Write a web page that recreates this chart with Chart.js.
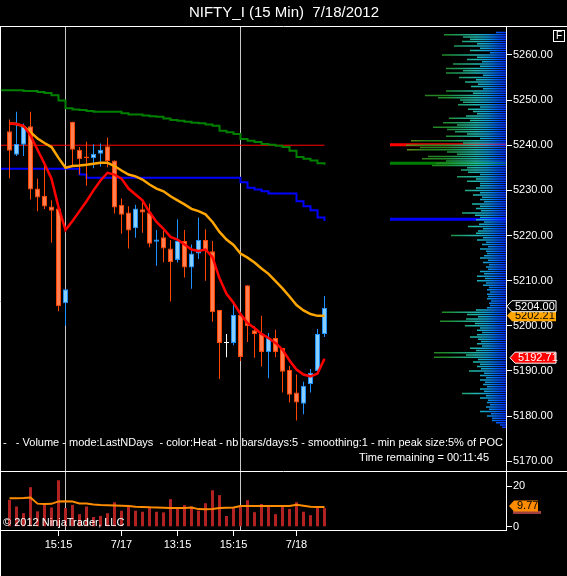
<!DOCTYPE html>
<html>
<head>
<meta charset="utf-8">
<title>NIFTY_I (15 Min) 7/18/2012</title>
<script src="https://cdn.jsdelivr.net/npm/chart.js@4.4.0/dist/chart.umd.min.js"></script>
<style>
  html, body { margin: 0; padding: 0; background: #000; }
  canvas { display: block; background: #000; }
</style>
</head>
<body>
<canvas id="chart" width="567" height="576"></canvas>
<script>
// 15 min bars, 7/16 -> 7/18
const opens  = [5243.1, 5237.9, 5240.1, 5244.2, 5230.4, 5228.8, 5226.4, 5226.0, 5205.0, 5245.2,
                5239.0, 5237.5, 5237.1, 5238.1, 5239.8, 5236.6, 5226.8, 5225.1, 5221.6, 5225.8,
                5225.1, 5218.6, 5219.6, 5217.1, 5214.6, 5218.8, 5212.9, 5216.0, 5219.0, 5216.5,
                5203.5, 5196.2, 5196.2, 5202.4, 5209.0, 5199.0, 5198.2, 5194.2, 5197.3, 5195.1,
                5190.2, 5185.2, 5182.7, 5187.1, 5190.0, 5198.2];
const highs  = [5245.7, 5247.4, 5244.8, 5247.4, 5232.6, 5236.4, 5227.8, 5226.0, 5208.1, 5245.2,
                5239.6, 5240.8, 5240.2, 5240.4, 5241.7, 5236.6, 5228.2, 5226.5, 5226.8, 5227.8,
                5227.1, 5221.2, 5221.1, 5219.0, 5223.6, 5221.2, 5218.0, 5224.0, 5221.4, 5218.8,
                5203.5, 5198.2, 5205.0, 5202.8, 5209.0, 5199.9, 5202.2, 5198.4, 5199.1, 5195.1,
                5191.1, 5189.2, 5187.6, 5190.4, 5199.3, 5206.6];
const lows   = [5232.7, 5237.6, 5237.6, 5228.0, 5225.4, 5225.9, 5218.4, 5203.2, 5200.0, 5235.2,
                5233.5, 5231.0, 5234.9, 5235.3, 5235.1, 5224.9, 5220.4, 5217.1, 5219.5, 5220.6,
                5217.4, 5213.3, 5214.1, 5205.4, 5214.0, 5210.7, 5208.2, 5214.8, 5210.0, 5200.9,
                5188.2, 5193.0, 5195.7, 5192.2, 5196.4, 5192.9, 5191.0, 5188.4, 5193.0, 5185.2,
                5183.0, 5179.0, 5180.4, 5185.2, 5189.6, 5197.5];
const closes = [5238.8, 5240.3, 5244.1, 5230.2, 5228.4, 5226.4, 5225.5, 5204.3, 5208.1, 5239.0,
                5236.9, 5237.1, 5238.1, 5239.0, 5236.5, 5226.2, 5224.6, 5221.1, 5226.0, 5225.1,
                5218.2, 5219.1, 5217.1, 5214.1, 5218.8, 5212.9, 5216.0, 5219.0, 5216.5, 5203.0,
                5196.2, 5196.2, 5202.4, 5193.1, 5199.9, 5198.2, 5194.2, 5197.3, 5194.2, 5189.8,
                5184.7, 5183.0, 5186.7, 5189.6, 5198.2, 5204.0];

const emaFast = [5244.8, 5244.7, 5244.3, 5242.2, 5239.0, 5235.9, 5232.6, 5226.3, 5221.2, 5223.2,
                 5225.4, 5227.6, 5230.0, 5232.2, 5233.9, 5233.5, 5232.6, 5230.4, 5229.1, 5227.8,
                 5225.2, 5223.0, 5221.5, 5219.7, 5219.1, 5218.0, 5216.9, 5216.6, 5216.9, 5215.2,
                 5210.5, 5207.1, 5205.1, 5202.6, 5200.6, 5199.5, 5198.2, 5197.3, 5196.2, 5194.7,
                 5192.3, 5190.3, 5189.2, 5188.8, 5189.4, 5192.71];
const emaSlow = [5244.8, 5244.7, 5244.2, 5242.9, 5241.5, 5240.5, 5239.6, 5237.2, 5235.0, 5235.4,
                 5235.5, 5235.7, 5235.9, 5236.1, 5236.1, 5235.4, 5234.4, 5233.5, 5233.1, 5232.4,
                 5231.3, 5230.4, 5229.8, 5228.7, 5227.8, 5226.9, 5225.9, 5225.4, 5224.7, 5223.0,
                 5220.8, 5219.1, 5217.9, 5216.0, 5215.1, 5214.0, 5212.7, 5211.5, 5209.9, 5208.3,
                 5206.5, 5204.6, 5203.4, 5202.6, 5202.2, 5202.21];
const upperLevel = [5252.2, 5252.2, 5252.0, 5252.0, 5251.8, 5251.6, 5251.1, 5249.9, 5248.2, 5247.9,
                    5247.8, 5247.6, 5247.4, 5247.4, 5247.4, 5247.4, 5247.1, 5246.8, 5246.8, 5246.6,
                    5246.4, 5246.3, 5245.9, 5245.6, 5245.4, 5245.2, 5245.0, 5244.9, 5244.6, 5244.3,
                    5243.2, 5242.9, 5242.5, 5241.4, 5241.0, 5240.7, 5240.3, 5240.1, 5239.9, 5239.6,
                    5238.8, 5237.4, 5237.0, 5236.6, 5236.0, 5235.7];
const lowerLevel = [5234.8, 5234.8, 5234.8, 5234.8, 5234.8, 5234.8, 5234.8, 5234.8, 5234.8, 5234.8,
                    5233.5, 5232.8, 5232.8, 5232.8, 5232.8, 5232.8, 5232.8, 5232.8, 5232.8, 5232.8,
                    5232.8, 5232.8, 5232.8, 5232.8, 5232.8, 5232.8, 5232.8, 5232.8, 5232.8, 5232.8,
                    5232.8, 5232.8, 5232.8, 5231.8, 5230.6, 5230.2, 5229.8, 5229.3, 5229.3, 5229.3,
                    5229.3, 5227.6, 5226.5, 5225.6, 5224.0, 5223.2];
const pocPrice = 5240;

const volumes   = [13.3, 10.0, 6.7, 19.5, 7.6, 11.2, 9.5, 22.9, 9.2, 10.8,
                   6.2, 10.0, 4.8, 5.4, 6.7, 12.1, 7.9, 10.3, 7.9, 7.4,
                   10.0, 7.4, 7.1, 13.6, 9.2, 10.7, 10.0, 8.0, 11.6, 18.0,
                   15.6, 5.3, 9.5, 10.5, 13.1, 7.2, 11.2, 10.0, 6.2, 10.0,
                   8.8, 12.1, 7.4, 5.7, 9.8, 9.2];
const volumeAvg = [14.1, 14.1, 14.2, 14.4, 11.4, 11.2, 11.3, 12.5, 12.6, 12.4,
                   11.5, 11.5, 11.0, 10.7, 10.6, 10.5, 10.4, 10.2, 9.9, 9.8,
                   9.6, 9.5, 9.4, 9.2, 9.2, 9.3, 9.5, 8.7, 8.6, 8.8,
                   9.3, 9.4, 9.5, 10.2, 10.2, 10.2, 10.2, 10.2, 10.2, 10.2,
                   10.2, 10.8, 10.4, 9.9, 9.8, 9.77];

const tickIndex = [7, 16, 24, 32, 41];
const tickLabels = ['15:15', '7/17', '13:15', '15:15', '7/18'];
const sessionBreaks = [8, 33];
const priceTicks = [5170, 5175, 5180, 5185, 5190, 5195, 5200, 5205, 5210, 5215,
                    5220, 5225, 5230, 5235, 5240, 5245, 5250, 5255, 5260];
const volumeTicks = [0, 20];

// volume profile, 0.5 pt levels from 5265 down
const profileTop = 5265;
const profileStep = 0.5;
const profileVolume = [
  10, 62, 43, 36, 44, 29, 52, 26, 36, 16,
  64, 29, 39, 24, 53, 26, 60, 43, 60, 23,
  47, 30, 41, 28, 35, 23, 60, 33, 81, 68,
  46, 43, 48, 26, 38, 33, 29, 40, 57, 36,
  63, 49, 73, 59, 51, 39, 60, 26, 95, 43,
  100, 86, 99, 59, 49, 78, 84, 60, 70, 74,
  39, 45, 38, 26, 49, 30, 39, 26, 26, 30,
  41, 26, 33, 24, 26, 22, 34, 26, 30, 25,
  44, 31, 26, 30, 22, 27, 38, 23, 28, 30,
  55, 23, 29, 20, 24, 18, 26, 20, 19, 22,
  26, 18, 23, 17, 20, 18, 26, 22, 29, 21,
  29, 20, 23, 17, 19, 16, 19, 18, 19, 15,
  17, 16, 19, 30, 64, 39, 28, 40, 66, 31,
  41, 26, 29, 24, 29, 36, 28, 25, 29, 24,
  36, 30, 72, 40, 72, 28, 33, 26, 29, 25,
  37, 22, 26, 20, 26, 21, 23, 19, 26, 22,
  44, 20, 26, 18, 19, 16, 20, 17, 26, 15,
  19, 14, 14, 10, 6, 4
];
const pocLevels = [5240.1, 5236.0, 5223.6];
const pocVolume = 116;

const xMin = -1.2143, xMax = 70.9286;
const FONT = '"Liberation Sans", Arial, sans-serif';

const upFill = '#87cefa', upLine = '#1e90ff';
const downFill = '#ff7f50', downLine = '#ff4500';
const pocColors = ['#ff0000', '#008000', '#0000ff'];

const bars = closes.map((_, i) => i);

function candleColor(i, up, down) {
  if (closes[i] > opens[i]) return up;
  if (closes[i] < opens[i]) return down;
  return '#ffffff';
}

function heatGradient(chart) {
  const area = chart.chartArea;
  if (!area) return '#0040ff';
  const xs = chart.scales.xp;
  const x0 = xs.getPixelForValue(0);
  const x1 = xs.getPixelForValue(pocVolume);
  const g = chart.ctx.createLinearGradient(x0, 0, x1, 0);
  g.addColorStop(0.00, '#0030ff');
  g.addColorStop(0.08, '#0060f0');
  g.addColorStop(0.16, '#1098d8');
  g.addColorStop(0.26, '#20b8b0');
  g.addColorStop(0.38, '#20a070');
  g.addColorStop(0.52, '#1f8a2a');
  g.addColorStop(0.70, '#2a801c');
  g.addColorStop(0.85, '#6a8a18');
  g.addColorStop(1.00, '#a07010');
  return g;
}

const profileData = [];
profileVolume.forEach((v, i) => {
  const p = profileTop - i * profileStep;
  profileData.push({x: 0, y: p}, {x: v, y: p}, {x: null, y: null});
});

function stepData(arr) {
  return [{x: xMin, y: arr[0]}].concat(arr.map((v, i) => ({x: i, y: v})));
}

function marker(ctx, x0, w, y, text, fill, stroke, color) {
  const h = 11;
  ctx.beginPath();
  ctx.moveTo(x0, y);
  ctx.lineTo(x0 + 5, y - h / 2);
  ctx.lineTo(x0 + w, y - h / 2);
  ctx.lineTo(x0 + w, y + h / 2);
  ctx.lineTo(x0 + 5, y + h / 2);
  ctx.closePath();
  ctx.fillStyle = fill;
  ctx.fill();
  if (stroke) {
    ctx.strokeStyle = stroke;
    ctx.lineWidth = 1;
    ctx.stroke();
  }
  ctx.fillStyle = color;
  ctx.textAlign = 'left';
  ctx.textBaseline = 'middle';
  ctx.fillText(text, x0 + 8, y + 0.5);
}

const frame = {
  id: 'frame',
  beforeDatasetsDraw(chart) {
    const {ctx, chartArea: a, scales: {x}} = chart;
    ctx.save();
    ctx.strokeStyle = '#c8c8c8';
    ctx.lineWidth = 1;
    sessionBreaks.forEach(v => {
      const px = Math.floor(x.getPixelForValue(v)) + 0.5;
      ctx.beginPath();
      ctx.moveTo(px, a.top);
      ctx.lineTo(px, a.bottom);
      ctx.stroke();
    });
    ctx.restore();
  },
  afterDraw(chart) {
    const {ctx, chartArea: a, scales: {y, yv}} = chart;
    const W = chart.width, H = chart.height;
    ctx.save();
    ctx.strokeStyle = '#ffffff';
    ctx.lineWidth = 1;
    ctx.beginPath();
    ctx.moveTo(0, a.top - 0.5); ctx.lineTo(W, a.top - 0.5);
    ctx.moveTo(0, Math.round(yv.top) - 0.5); ctx.lineTo(W, Math.round(yv.top) - 0.5);
    ctx.moveTo(0.5, a.top); ctx.lineTo(0.5, H);
    ctx.stroke();

    // F box
    ctx.strokeRect(553.5, 30.5, 11, 11);
    ctx.fillStyle = '#ffffff';
    ctx.font = '10px ' + FONT;
    ctx.textAlign = 'center';
    ctx.textBaseline = 'middle';
    ctx.fillText('F', 559, 36.5);

    // indicator texts
    ctx.font = '11px ' + FONT;
    ctx.textAlign = 'left';
    ctx.fillText('-   - Volume - mode:LastNDays  - color:Heat - nb bars/days:5 - smoothing:1 - min peak size:5% of POC',
      3, 443, 500);
    ctx.textAlign = 'right';
    ctx.fillText('Time remaining = 00:11:45', 489, 458);
    ctx.textAlign = 'left';
    ctx.fillText('\u00a9 2012 NinjaTrader, LLC', 3, 523);

    // price markers
    const last = closes.length - 1;
    const right = a.right + 1;
    marker(ctx, right, 49, y.getPixelForValue(emaSlow[last]), emaSlow[last].toFixed(2), '#ffa500', null, '#000000');
    marker(ctx, right, 49, y.getPixelForValue(closes[last]) - 1.5, closes[last].toFixed(2), '#000000', '#ffffff', '#ffffff');
    marker(ctx, right + 3, 46, y.getPixelForValue(emaFast[last]) - 1, emaFast[last].toFixed(2), '#ff0000', '#ffffff', '#ffffff');
    const vy = yv.getPixelForValue(volumeAvg[last]);
    ctx.fillStyle = '#a04040';
    ctx.fillRect(right + 6, vy + 4, 28, 3);
    marker(ctx, right + 2, 29, vy - 1, volumeAvg[last].toFixed(2), '#ff8c00', null, '#000000');
    ctx.restore();
  }
};

const config = {
  data: {
    datasets: [
      {
        type: 'line', label: 'poc', order: 11, xAxisID: 'xp', yAxisID: 'y',
        data: pocLevels.flatMap(p => [{x: 0, y: p}, {x: pocVolume, y: p}, {x: null, y: null}]),
        borderColor: '#ff0000', borderWidth: 3, pointRadius: 0,
        segment: { borderColor: c => pocColors[Math.floor(c.p0DataIndex / 3)] },
      },
      {
        type: 'line', label: 'profile', order: 10, xAxisID: 'xp', yAxisID: 'y',
        data: profileData,
        borderColor: c => heatGradient(c.chart), borderWidth: 1.5, pointRadius: 0,
        borderCapStyle: 'butt',
      },
      {
        type: 'bar', label: 'volume', order: 9, xAxisID: 'x', yAxisID: 'yv',
        data: volumes.map((v, i) => ({x: i, y: v})),
        backgroundColor: '#b22222', grouped: false, maxBarThickness: 3,
      },
      {
        type: 'line', label: 'volume avg', order: 8, xAxisID: 'x', yAxisID: 'yv',
        data: volumeAvg.map((v, i) => ({x: i, y: v})),
        borderColor: '#ff8c00', borderWidth: 2, pointRadius: 0,
      },
      {
        type: 'line', label: 'upper', order: 7, xAxisID: 'x', yAxisID: 'y',
        data: stepData(upperLevel), stepped: true,
        borderColor: '#008000', borderWidth: 2, pointRadius: 0,
      },
      {
        type: 'line', label: 'lower', order: 7, xAxisID: 'x', yAxisID: 'y',
        data: stepData(lowerLevel), stepped: true,
        borderColor: '#0000ff', borderWidth: 2, pointRadius: 0,
      },
      {
        type: 'line', label: 'poc line', order: 7, xAxisID: 'x', yAxisID: 'y',
        data: [{x: xMin, y: pocPrice}, {x: closes.length - 1, y: pocPrice}],
        borderColor: '#ff0000', borderWidth: 1, pointRadius: 0,
      },
      {
        type: 'bar', label: 'wicks', order: 6, xAxisID: 'x', yAxisID: 'y',
        data: bars.map(i => ({x: i, y: [lows[i], highs[i]]})),
        backgroundColor: c => candleColor(c.dataIndex, upLine, downLine),
        grouped: false, maxBarThickness: 1,
      },
      {
        type: 'bar', label: 'bodies', order: 5, xAxisID: 'x', yAxisID: 'y',
        data: bars.map(i => ({x: i, y: [opens[i], closes[i]]})),
        backgroundColor: c => candleColor(c.dataIndex, upFill, downFill),
        borderColor: c => candleColor(c.dataIndex, upLine, downLine),
        borderWidth: 1, borderSkipped: false, minBarLength: 1,
        grouped: false, maxBarThickness: 5,
      },
      {
        type: 'line', label: 'slow', order: 4, xAxisID: 'x', yAxisID: 'y',
        data: emaSlow.map((v, i) => ({x: i, y: v})),
        borderColor: '#ffa500', borderWidth: 2.5, pointRadius: 0,
      },
      {
        type: 'line', label: 'fast', order: 3, xAxisID: 'x', yAxisID: 'y',
        data: emaFast.map((v, i) => ({x: i, y: v})),
        borderColor: '#ff0000', borderWidth: 2.5, pointRadius: 0,
      },
    ],
  },
  options: {
    responsive: false,
    animation: false,
    devicePixelRatio: 1,
    layout: { padding: { left: 1 } },
    events: [],
    plugins: {
      legend: { display: false },
      tooltip: { enabled: false },
      title: {
        display: true,
        text: 'NIFTY_I (15 Min)  7/18/2012',
        color: '#ffffff',
        font: { family: FONT, size: 15, weight: 'normal' },
        padding: { top: 4, bottom: 5 },
      },
    },
    scales: {
      x: {
        type: 'linear', position: 'bottom', min: xMin, max: xMax, offset: false,
        afterBuildTicks: s => { s.ticks = tickIndex.map(v => ({value: v})); },
        afterFit: s => { s.height = 46; },
        ticks: {
          color: '#ffffff', font: { family: FONT, size: 11 }, padding: 2,
          autoSkip: false, maxRotation: 0,
          callback: v => tickLabels[tickIndex.indexOf(v)],
        },
        grid: { display: true, offset: false, drawOnChartArea: false, tickLength: 6, color: '#ffffff' },
        border: { display: true, color: '#ffffff' },
      },
      xp: {
        type: 'linear', position: 'bottom', display: false, reverse: true, offset: false,
        min: 0, max: 505,
      },
      y: {
        type: 'linear', position: 'right', stack: 'panels', stackWeight: 445,
        min: 5167.6, max: 5266.2,
        afterBuildTicks: s => { s.ticks = priceTicks.map(v => ({value: v})); },
        afterFit: s => { s.width = 61; },
        ticks: {
          color: '#ffffff', font: { family: FONT, size: 11 }, padding: 1,
          callback: v => v.toFixed(2),
        },
        grid: { display: true, drawOnChartArea: false, tickLength: 6, color: '#ffffff' },
        border: { display: true, color: '#ffffff' },
      },
      yv: {
        type: 'linear', position: 'right', stack: 'panels', stackWeight: 58,
        min: -1.6, max: 27,
        afterBuildTicks: s => { s.ticks = volumeTicks.map(v => ({value: v})); },
        afterFit: s => { s.width = 61; },
        ticks: {
          color: '#ffffff', font: { family: FONT, size: 11 }, padding: 1,
          callback: v => String(v),
        },
        grid: { display: true, drawOnChartArea: false, tickLength: 6, color: '#ffffff' },
        border: { display: true, color: '#ffffff' },
      },
    },
  },
  plugins: [frame],
};

function renderChart() {
  const chartCanvas = document.getElementById('chart');
  new Chart(chartCanvas, config);
}

renderChart();
</script>
</body>
</html>
